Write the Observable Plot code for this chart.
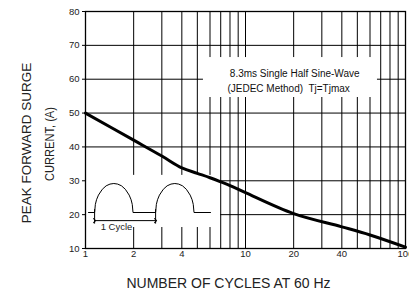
<!DOCTYPE html>
<html>
<head>
<meta charset="utf-8">
<script src="https://cdn.jsdelivr.net/npm/d3@7"></script>
<script src="https://cdn.jsdelivr.net/npm/@observablehq/plot@0.6"></script>
<style>
  html, body { margin: 0; padding: 0; background: #fff; }
  #chart { position: relative; width: 409px; height: 296px; overflow: hidden; font-family: "Liberation Sans", Arial, sans-serif; }
  #inset { position: absolute; left: 85px; top: 170px; }
  svg { font-family: "Liberation Sans", Arial, sans-serif; }
  .ytitle { position: absolute; white-space: nowrap; font-size: 13.5px; color: #222; line-height: 1; }
</style>
</head>
<body>
<div id="chart"><div id="main"></div><div id="inset"></div></div>
<script>
// ---- data ----
const cycles = [1, 2, 3, 4, 5, 6, 7, 8, 10, 20, 40, 60, 100];
const surge  = [50, 42.0, 37.3, 33.8, 32.2, 30.9, 29.7, 28.6, 26.5, 20.3, 16.4, 14.0, 10.4];

const xTickValues = [1, 2, 4, 6, 8, 10, 20, 40, 60, 100];
const yTickValues = [10, 20, 30, 40, 50, 60, 70, 80];
const xGridValues = [2, 3, 4, 5, 6, 7, 8, 9, 10, 20, 30, 40, 50, 60, 70, 80, 90];
const yGridFull = [40, 50, 60, 70];
const yGridPartial = [20, 30];
const yGridPartialFrom = [7];

// blank areas in the grid (behind the note and the inset sketch)
const maskX1 = [5.46, 1];
const maskX2 = [66.8, 6.6];
const maskY1 = [54.6, 16.2];
const maskY2 = [66.4, 31.6];

const noteLines = ["8.3ms Single Half Sine-Wave", "(JEDEC Method)  Tj=Tjmax"];
const noteX = [20.3, 18.6];
const noteY = [61.7, 57.3];

const yTitleLines = ["PEAK FORWARD SURGE", "CURRENT, (A)"];
const yTitleLeft = [27, 50];
const yTitleTop = [143, 144];
const yTitleSquash = [1, 0.82];
const xTitle = "NUMBER OF CYCLES AT 60 Hz";

// inset waveform sketch (one hump shape)
const humpFrac  = [0, 0.02, 0.05, 0.1, 0.2, 0.3, 0.4, 0.5, 0.6, 0.7, 0.8, 0.9, 0.95, 0.98, 1];
const humpLevel = [0, 0.28, 0.44, 0.6, 0.8, 0.92, 0.98, 1, 0.98, 0.92, 0.8, 0.6, 0.44, 0.28, 0];
const humpStarts = [0, 1];
const humpWidth = [0.63];
const waveBounds = [-0.1, 1.9];
const cycleMarks = [0, 1];
const cycleLabel = "1 Cycle";

// ---- build tables ----
const curve = cycles.map((c, i) => ({c, v: surge[i]}));
const masks = maskX1.map((x1, i) => ({x1, x2: maskX2[i], y1: maskY1[i], y2: maskY2[i]}));
const notes = noteLines.map((t, i) => ({t, x: noteX[i], y: noteY[i]}));

const wave = [{t: waveBounds[0], a: 0}];
humpStarts.forEach(s => humpFrac.forEach((f, i) => wave.push({t: s + f * humpWidth[0], a: humpLevel[i]})));
wave.push({t: waveBounds[1], a: 0});

const font = '"Liberation Sans", Arial, sans-serif';

const main = Plot.plot({
  width: 409, height: 296,
  marginLeft: 85, marginRight: 4, marginTop: 11, marginBottom: 48,
  x: {type: "log", domain: [1, 100]},
  y: {domain: [10, 80]},
  style: {fontFamily: font, fontSize: "9px", background: "white", color: "black"},
  marks: [
    Plot.ruleX(xGridValues, {stroke: "black", strokeWidth: 1}),
    Plot.ruleY(yGridFull, {stroke: "black", strokeWidth: 1}),
    Plot.ruleY(yGridPartial, {x1: yGridPartialFrom[0], x2: 100, stroke: "black", strokeWidth: 1}),
    Plot.rect(masks, {x1: "x1", x2: "x2", y1: "y1", y2: "y2", fill: "white"}),
    Plot.line(curve, {x: "c", y: "v", stroke: "black", strokeWidth: 3, curve: "catmull-rom"}),
    Plot.text(notes, {x: "x", y: "y", text: "t", fontSize: 10, fill: "#111"}),
    Plot.frame({stroke: "black", strokeWidth: 1.3}),
    Plot.axisY({ticks: yTickValues, tickSize: 3, tickPadding: 3, label: null, fontSize: 9.5, fill: "#222"}),
    Plot.axisX({ticks: xTickValues, tickFormat: d => String(d), tickSize: 0, tickPadding: 2, label: null, fontSize: 9.5, fill: "#222"}),
    Plot.text([xTitle], {frameAnchor: "bottom", dx: -17, dy: 39, fontSize: 14, fill: "#222"})
  ]
});
document.getElementById("main").append(main);

const chart = document.getElementById("chart");
yTitleLines.forEach((t, i) => {
  const d = document.createElement("div");
  d.className = "ytitle";
  d.textContent = t;
  d.style.left = yTitleLeft[i] + "px";
  d.style.top = yTitleTop[i] + "px";
  d.style.transform = `translate(-50%, -50%) rotate(-90deg) scaleX(${yTitleSquash[i]})`;
  chart.append(d);
});

const inset = Plot.plot({
  width: 130, height: 62,
  margin: 0,
  x: {domain: waveBounds, range: [3, 125], axis: null},
  y: {domain: [0, 1], range: [42, 13], axis: null},
  style: {fontFamily: font, background: "transparent", overflow: "visible"},
  marks: [
    Plot.line(wave, {x: "t", y: "a", stroke: "black", strokeWidth: 1}),
    Plot.ruleX(cycleMarks, {y1: 0.1, y2: -0.4, stroke: "black", strokeWidth: 1}),
    Plot.link([0], {x1: cycleMarks[0], x2: cycleMarks[1], y1: -0.28, y2: -0.28, stroke: "black", strokeWidth: 1, markerStart: "arrow", markerEnd: "arrow"}),
    Plot.text([cycleLabel], {x: 0.1, y: -0.5, textAnchor: "start", fontSize: 9.5, fill: "#222"})
  ]
});
document.getElementById("inset").append(inset);
</script>
</body>
</html>
